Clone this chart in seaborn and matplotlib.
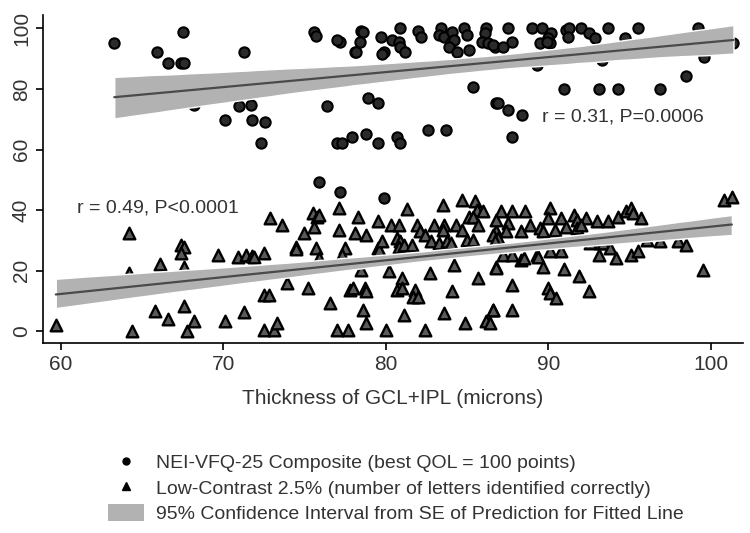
import numpy as np
import pandas as pd
import seaborn as sns
import matplotlib.pyplot as plt
from matplotlib.lines import Line2D
from matplotlib.patches import Patch

# NEI-VFQ-25 composite score (circles)
comp_x = [63.3, 65.9, 66.6, 67.4, 67.6, 67.5, 68.2, 70.1, 71.0, 71.7, 71.8, 71.3, 72.3, 72.6,
          75.6, 75.7, 77.2, 77.0, 78.5, 78.6, 78.4, 78.1, 78.2, 79.7, 79.9, 79.8, 80.4, 80.9,
          80.8, 80.9, 81.2, 82.0, 82.2, 83.4, 83.3, 83.6, 84.1, 84.0, 84.2, 84.8, 85.0, 83.9,
          84.4, 85.1, 86.2, 86.1, 85.9, 86.3, 86.7, 85.4, 86.8, 76.4, 78.9, 79.5, 77.0, 77.3,
          77.9, 78.8, 79.5, 80.7, 80.9, 82.6, 83.7, 75.9, 77.2, 79.9,
          87.5, 86.6, 87.2, 87.8, 89.0, 89.6, 90.2, 90.0, 90.1, 91.1, 91.3, 91.2, 92.0, 92.5,
          92.9, 93.7, 94.7, 95.5, 99.2, 101.4, 99.6, 89.3, 93.3, 98.5, 91.0, 93.1, 94.3, 96.9,
          86.9, 87.5, 88.4, 87.8, 89.5, 89.9]
comp_y = [95.1, 92.1, 88.5, 88.5, 88.5, 98.9, 74.7, 69.8, 74.4, 74.7, 69.8, 92.3, 62.2, 69.0,
          98.9, 97.5, 95.6, 96.1, 99.2, 98.8, 95.6, 92.3, 92.3, 97.0, 92.3, 91.5, 96.1, 100,
          95.6, 93.9, 92.3, 99.2, 97.0, 100, 97.8, 97.2, 98.9, 95.6, 96.1, 100, 97.8, 93.9,
          92.3, 92.8, 100, 98.3, 95.6, 95.1, 93.9, 80.5, 75.3, 74.2, 76.9, 75.3, 62.3, 62.3,
          64.3, 65.1, 62.3, 64.1, 62.3, 66.3, 66.3, 49.4, 45.9, 44.0,
          100, 94.5, 93.9, 95.6, 100, 100, 98.3, 96.7, 95.1, 99.4, 100, 97.2, 100, 98.3,
          96.7, 100, 96.7, 100, 100, 95.1, 90.6, 87.9, 89.5, 84.4, 79.9, 79.9, 79.9, 79.9,
          75.3, 73.1, 71.4, 64.3, 95.1, 95.6]

# Low-contrast 2.5% letters (triangles)
lc_x = [59.7, 64.2, 64.2, 64.4, 65.8, 66.6, 66.1, 67.4, 67.6, 67.4, 67.6, 67.6, 68.2, 67.8,
        69.7, 70.1, 70.9, 71.4, 71.8, 71.9, 71.3,
        72.5, 72.9, 73.6, 74.5, 74.5, 75.0, 75.5, 75.8, 75.9, 75.6, 75.7, 75.9, 77.1, 77.1,
        77.5, 77.3, 78.3, 78.1, 78.8, 79.5, 79.5, 79.6, 79.8, 80.3, 80.8, 80.7, 80.9, 80.8,
        81.1, 81.6, 81.3, 81.9, 82.1, 82.4, 83.0, 83.6, 83.5, 83.5, 82.8, 83.3, 83.8, 84.0,
        84.3, 84.7, 84.7, 85.5, 85.6, 86.0, 85.1, 85.4, 85.0, 85.4, 85.7, 86.8, 86.8,
        72.5, 72.8, 73.9, 75.2, 76.6, 78.5, 77.8, 78.0, 78.7, 78.8, 78.6, 78.8, 80.2, 81.0,
        80.7, 81.0, 81.8, 81.7, 82.0, 82.7, 84.2, 84.1, 83.6, 81.1, 85.7, 86.8, 86.6, 86.2,
        84.9, 82.4, 80.0, 77.0, 77.7, 72.5, 73.1, 73.3,
        87.1, 87.8, 88.6, 90.1, 90.0, 86.8, 87.5, 87.4, 88.3, 88.9, 89.5, 89.7, 86.6, 86.9,
        86.7, 90.8, 91.6, 91.8, 92.3, 93.0, 93.7, 90.4, 91.1, 91.8, 92.0, 94.3, 94.8, 95.1,
        95.2, 95.7, 92.6, 93.2, 93.4, 96.1, 96.9, 98.0, 98.5, 100.8, 101.3, 99.5, 87.2, 87.8,
        88.3, 88.5, 89.3, 89.4, 90.1, 90.8, 93.1, 93.8, 94.2, 95.1, 95.5, 86.8, 89.7, 91.0,
        91.9, 92.5, 87.8, 90.0, 90.1, 90.5, 86.6, 87.8, 86.4]
lc_y = [2.2, 32.4, 19.2, 0.0, 6.6, 4.1, 22.2, 28.6, 27.8, 25.8, 21.2, 8.5, 3.3, 0.0,
        25.3, 3.3, 24.5, 25.3, 25.0, 24.5, 6.3,
        26.0, 37.4, 35.2, 28.0, 27.2, 32.4, 39.2, 37.9, 38.5, 34.6, 27.5, 24.2, 40.7, 33.5,
        27.5, 25.3, 37.9, 32.4, 31.9, 36.3, 27.5, 26.9, 29.7, 35.2, 35.2, 30.8, 29.7, 28.0,
        28.6, 28.6, 40.3, 35.2, 33.0, 31.9, 35.2, 35.2, 33.5, 41.8, 29.7, 29.1, 29.7, 29.1,
        35.2, 33.5, 43.4, 42.9, 40.2, 39.6, 37.9, 37.9, 30.2, 30.2, 35.2, 33.0, 30.2,
        12.1, 12.1, 16.0, 14.3, 9.4, 20.3, 13.7, 14.3, 14.3, 13.2, 7.2, 2.8, 19.8, 17.6,
        13.7, 14.3, 13.7, 11.5, 11.5, 19.2, 22.0, 13.2, 6.0, 5.5, 17.6, 21.4, 7.2, 3.3,
        2.8, 0.6, 0.6, 0.6, 0.6, 0.6, 0.6, 2.8,
        39.6, 39.6, 39.6, 40.7, 37.4, 36.8, 35.7, 33.0, 33.0, 35.2, 34.1, 33.0, 31.9, 30.8,
        29.7, 37.4, 38.5, 36.8, 37.4, 36.3, 36.3, 33.5, 34.6, 34.1, 35.2, 37.9, 39.6, 40.7,
        39.0, 37.4, 29.1, 29.1, 29.1, 30.2, 29.7, 29.7, 28.6, 43.4, 44.5, 20.3, 25.3, 25.3,
        23.6, 24.2, 25.3, 24.7, 26.4, 26.4, 25.3, 27.5, 24.2, 25.3, 26.4, 20.9, 21.4, 20.6,
        18.4, 13.2, 15.4, 14.3, 12.7, 11.0, 7.2, 7.2, 2.8]

comp = pd.DataFrame({"x": comp_x, "y": comp_y})
lc = pd.DataFrame({"x": lc_x, "y": lc_y})

band_color = "#b2b2b2"
line_color = "#4a4a4a"
text_color = "#333333"

sns.set_style("ticks")
plt.rcParams["font.family"] = ["Liberation Sans", "DejaVu Sans"]

fig = plt.figure(figsize=(7.5, 5.33), dpi=100)
ax = fig.add_axes([0.057, 0.3565, 0.934, 0.6155])

sns.scatterplot(data=comp, x="x", y="y", marker="o", s=55, color="#2b2b2b",
                edgecolor="black", linewidth=1.5, ax=ax)
sns.scatterplot(data=lc, x="x", y="y", marker="^", s=70, color="#5a5a5a",
                edgecolor="black", linewidth=1.7, ax=ax)

# fitted line + CI band drawn over the points
for df in (comp, lc):
    sns.regplot(data=df, x="x", y="y", scatter=False, ci=95, seed=1, ax=ax,
                line_kws={"color": line_color, "lw": 1.6})
    band = ax.collections[-1]
    band.set_facecolor(band_color)
    band.set_alpha(1)

ax.text(89.6, 70.7, "r = 0.31, P=0.0006", fontsize=14, color=text_color, va="center")
ax.text(61.0, 40.8, "r = 0.49, P<0.0001", fontsize=14, color=text_color, va="center")

ax.set_xlim(58.9, 102)
ax.set_ylim(-3.8, 104.4)
ax.set_xticks([60, 70, 80, 90, 100])
ax.set_yticks([0, 20, 40, 60, 80, 100])
ax.set_yticklabels(["0", "20", "40", "60", "80", "100"], rotation=90, va="center")
ax.tick_params(labelsize=15, colors="black", labelcolor=text_color, length=5, width=1.2)
ax.set_xlabel("Thickness of GCL+IPL (microns)", fontsize=15, color=text_color, labelpad=11)
ax.set_ylabel("")
sns.despine(ax=ax)
for sp in ("left", "bottom"):
    ax.spines[sp].set_linewidth(1.2)
    ax.spines[sp].set_color("black")

handles = [
    Line2D([], [], marker="o", ls="", color="black", markersize=5),
    Line2D([], [], marker="^", ls="", color="black", markersize=6),
    Patch(facecolor=band_color, edgecolor="none"),
]
labels = [
    "NEI-VFQ-25 Composite (best QOL = 100 points)",
    "Low-Contrast 2.5% (number of letters identified correctly)",
    "95% Confidence Interval from SE of Prediction for Fitted Line",
]
leg = fig.legend(handles, labels, loc="upper left", bbox_to_anchor=(0.133, 0.165),
                 frameon=False, fontsize=14, handlelength=1.9, handleheight=1.0,
                 labelspacing=0.32, handletextpad=0.6, borderaxespad=0)
for t in leg.get_texts():
    t.set_color(text_color)

fig.savefig("out.png", dpi=100)
